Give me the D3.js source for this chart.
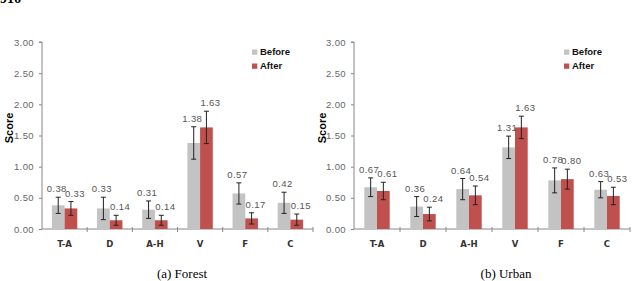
<!DOCTYPE html>
<html>
<head>
<meta charset="utf-8">
<script src="https://cdn.jsdelivr.net/npm/d3@7"></script>
<style>
  html, body { margin: 0; padding: 0; background: #fff; }
  svg { display: block; }
</style>
</head>
<body>
<svg id="chart" width="636" height="281"></svg>
<script>
// ---- data ----
const categories = ["T-A", "D", "A-H", "V", "F", "C"];
const seriesNames = ["Before", "After"];
const yTicks = [0, 0.5, 1.0, 1.5, 2.0, 2.5, 3.0];

const forestBefore    = [0.38, 0.33, 0.31, 1.38, 0.57, 0.42];
const forestAfter     = [0.33, 0.14, 0.14, 1.63, 0.17, 0.15];
const forestBeforeErr = [0.13, 0.18, 0.14, 0.26, 0.17, 0.17];
const forestAfterErr  = [0.11, 0.08, 0.08, 0.26, 0.09, 0.09];

const urbanBefore    = [0.67, 0.36, 0.64, 1.31, 0.78, 0.63];
const urbanAfter     = [0.61, 0.24, 0.54, 1.63, 0.80, 0.53];
const urbanBeforeErr = [0.15, 0.16, 0.17, 0.18, 0.20, 0.13];
const urbanAfterErr  = [0.14, 0.11, 0.15, 0.18, 0.16, 0.14];

const captions = ["(a) Forest", "(b) Urban"];
const yTitle = "Score";

// ---- layout ----
const svg = d3.select("#chart");
const colors = { Before: "#c3c3c3", After: "#c0504d" };
const panels = [
  { caption: captions[0], before: forestBefore, after: forestAfter, beforeErr: forestBeforeErr, afterErr: forestAfterErr,
    x0: 42, x1: 313, titleX: 9, legendX: 252, captionX: 182 },
  { caption: captions[1], before: urbanBefore, after: urbanAfter, beforeErr: urbanBeforeErr, afterErr: urbanAfterErr,
    x0: 354, x1: 630, titleX: 322, legendX: 564, captionX: 506 }
];
const yTop = 42, yBottom = 229;
const y = d3.scaleLinear().domain([0, 3]).range([yBottom, yTop]);
const numFont = "'Liberation Sans', Arial, sans-serif";

// header (page number, cut off at top)
svg.append("text").attr("x", 0).attr("y", 3)
  .attr("font-family", "'Liberation Serif', serif").attr("font-weight", "bold")
  .attr("font-size", 14).attr("fill", "#000").text("916");

panels.forEach(p => {
  const g = svg.append("g");
  const x = d3.scaleBand().domain(categories).range([p.x0, p.x1]).padding(0);
  const bw = x.bandwidth();
  const barW = 12.7;
  const xs = d3.scaleBand().domain(seriesNames).range([bw / 2 - barW, bw / 2 + barW]).padding(0);

  // y axis
  const yAxis = d3.axisLeft(y).tickValues(yTicks).tickSize(3).tickPadding(5).tickFormat(d3.format(".2f"));
  const ya = g.append("g").attr("transform", `translate(${p.x0},0)`).call(yAxis);
  ya.select(".domain").attr("stroke", "#888").attr("d", `M-3,${yTop}H0V${yBottom}`);
  ya.selectAll(".tick line").attr("stroke", "#888");
  ya.selectAll(".tick text").attr("font-family", numFont).attr("font-size", 9.5).attr("fill", "#666")
    .style("letter-spacing", "0.4px");

  // x axis
  const xa = g.append("g").attr("transform", `translate(0,${yBottom})`);
  xa.append("line").attr("x1", p.x0).attr("x2", p.x1).attr("y1", 0).attr("y2", 0).attr("stroke", "#888");
  const bounds = categories.map(c => x(c) + bw);
  xa.selectAll("line.tk").data(bounds).enter().append("line").attr("class", "tk")
    .attr("x1", d => d).attr("x2", d => d).attr("y1", -2).attr("y2", 3).attr("stroke", "#888");
  xa.selectAll("text").data(categories).enter().append("text")
    .attr("x", d => x(d) + bw / 2).attr("y", 18)
    .attr("text-anchor", "middle")
    .attr("font-family", "'DejaVu Sans Condensed', 'DejaVu Sans', sans-serif")
    .attr("font-weight", "bold").attr("font-size", 9.5).attr("fill", "#333")
    .text(d => d);

  // bars
  const rows = [];
  categories.forEach((c, i) => {
    rows.push({ cat: c, s: "Before", v: p.before[i], e: p.beforeErr[i] });
    rows.push({ cat: c, s: "After", v: p.after[i], e: p.afterErr[i] });
  });
  g.selectAll("rect.bar").data(rows).enter().append("rect").attr("class", "bar")
    .attr("x", d => x(d.cat) + xs(d.s)).attr("width", xs.bandwidth())
    .attr("y", d => y(d.v)).attr("height", d => y(0) - y(d.v))
    .attr("fill", d => colors[d.s]);

  // error bars
  const eb = g.selectAll("g.eb").data(rows).enter().append("g").attr("class", "eb")
    .attr("stroke", "#222").attr("stroke-width", 1);
  const cx = d => x(d.cat) + xs(d.s) + xs.bandwidth() / 2;
  eb.append("line").attr("x1", cx).attr("x2", cx).attr("y1", d => y(d.v + d.e)).attr("y2", d => y(d.v - d.e));
  eb.append("line").attr("x1", d => cx(d) - 2.5).attr("x2", d => cx(d) + 2.5).attr("y1", d => y(d.v + d.e)).attr("y2", d => y(d.v + d.e));
  eb.append("line").attr("x1", d => cx(d) - 2.5).attr("x2", d => cx(d) + 2.5).attr("y1", d => y(d.v - d.e)).attr("y2", d => y(d.v - d.e));

  // value labels
  g.selectAll("text.val").data(rows).enter().append("text").attr("class", "val")
    .attr("x", d => cx(d) + (d.s === "Before" ? -1.5 : 4))
    .attr("y", d => y(d.v + d.e) - 5)
    .attr("text-anchor", "middle")
    .attr("font-family", numFont).attr("font-size", 9.5).attr("fill", "#555")
    .style("letter-spacing", "0.4px")
    .text(d => d3.format(".2f")(d.v));

  // y title
  g.append("text").attr("transform", `translate(${p.titleX + 4},128) rotate(-90)`)
    .attr("text-anchor", "middle").attr("font-family", "'Liberation Sans', Arial, sans-serif")
    .attr("font-weight", "bold").attr("font-size", 11).attr("fill", "#000").text(yTitle);

  // legend
  seriesNames.forEach((s, i) => {
    const ly = 49.5 + i * 14;
    g.append("rect").attr("x", p.legendX).attr("y", ly).attr("width", 5.3).attr("height", 5.3).attr("fill", colors[s]);
    g.append("text").attr("x", p.legendX + 8).attr("y", ly + 5.8)
      .attr("font-family", "'Liberation Sans', Arial, sans-serif").attr("font-weight", "bold")
      .attr("font-size", 9.5).attr("fill", "#111").text(s);
  });

  // caption
  g.append("text").attr("x", p.captionX).attr("y", 278).attr("text-anchor", "middle")
    .attr("font-family", "'Liberation Serif', 'Times New Roman', serif").attr("font-size", 13)
    .attr("fill", "#000").text(p.caption);
});
</script>
</body>
</html>
